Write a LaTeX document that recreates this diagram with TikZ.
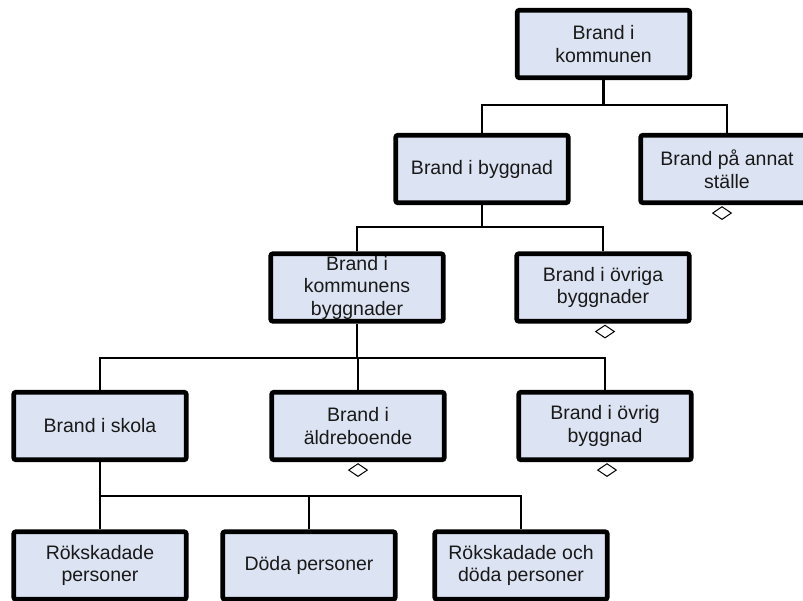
\documentclass[tikz,border=0pt]{standalone}
\usepackage{fontspec}
\setmainfont{Liberation Sans}
\usetikzlibrary{shapes.geometric}
\definecolor{boxfill}{RGB}{220,227,242}
\tikzset{
  orgbox/.style={draw=black, line width=4.6pt, fill=boxfill, rounded corners=2pt,
    minimum width=172.5pt, minimum height=67.5pt, inner xsep=2pt, inner ysep=0pt,
    align=center, font=\fontsize{19.5}{22.5}\selectfont, text=black!90},
  conn/.style={draw=black, line width=2.4pt},
  marker/.style={diamond, draw=black, fill=white, line width=1pt, inner sep=0pt,
    minimum width=19pt, minimum height=13pt}
}
\begin{document}
\begin{tikzpicture}[x=1pt,y=-1pt]
\useasboundingbox (0,0) rectangle (803,600);
\clip (0,0) rectangle (803,600);
\fill[white] (0,0) rectangle (803,600);
\coordinate (y1) at (0,105);
\coordinate (y2) at (0,227);
\coordinate (y3) at (0,358);
\coordinate (y4) at (0,496);
% nodes
\node[orgbox] (k) at (603.5,44) {Brand i\\kommunen};
\node[orgbox] (bygg) at (482,169) {Brand i byggnad};
\node[orgbox] (annat) at (727,169) {Brand på annat\\ställe};
\node[orgbox] (kb) at (357,287.5) {Brand i\\kommunens\\byggnader};
\node[orgbox] (ovriga) at (603,287.5) {Brand i övriga\\byggnader};
\node[orgbox] (skola) at (100,426) {Brand i skola};
\node[orgbox] (aldre) at (358,426) {Brand i\\äldreboende};
\node[orgbox] (ovrig) at (605,426) {Brand i övrig\\byggnad};
\node[orgbox] (rok) at (100,565.5) {Rökskadade\\personer};
\node[orgbox] (doda) at (309,565.5) {Döda personer};
\node[orgbox] (rokdoda) at (521,565.5) {Rökskadade och\\döda personer};
% connectors
\draw[conn] (k.south) -- (k.south |- y1);
\draw[conn] (bygg.north) -- (bygg.north |- y1) -| (annat.north);
\draw[conn] (bygg.south) -- (bygg.south |- y2);
\draw[conn] (kb.north) -- (kb.north |- y2) -| (ovriga.north);
\draw[conn] (kb.south) -- (kb.south |- y3);
\draw[conn] (skola.north) -- (skola.north |- y3) -| (ovrig.north);
\draw[conn] (aldre.north) -- (aldre.north |- y3);
\draw[conn] (skola.south) -- (rok.north);
\draw[conn] (skola.south |- y4) -| (rokdoda.north);
\draw[conn] (doda.north) -- (doda.north |- y4);
% markers
\node[marker] (m1) at ([xshift=-5pt,yshift=-8pt]annat.south) {};
\node[marker] (m2) at ([xshift=2pt,yshift=-8pt]ovriga.south) {};
\node[marker] (m3) at ([yshift=-8pt]aldre.south) {};
\node[marker] (m4) at ([xshift=2pt,yshift=-8pt]ovrig.south) {};
\end{tikzpicture}
\end{document}
